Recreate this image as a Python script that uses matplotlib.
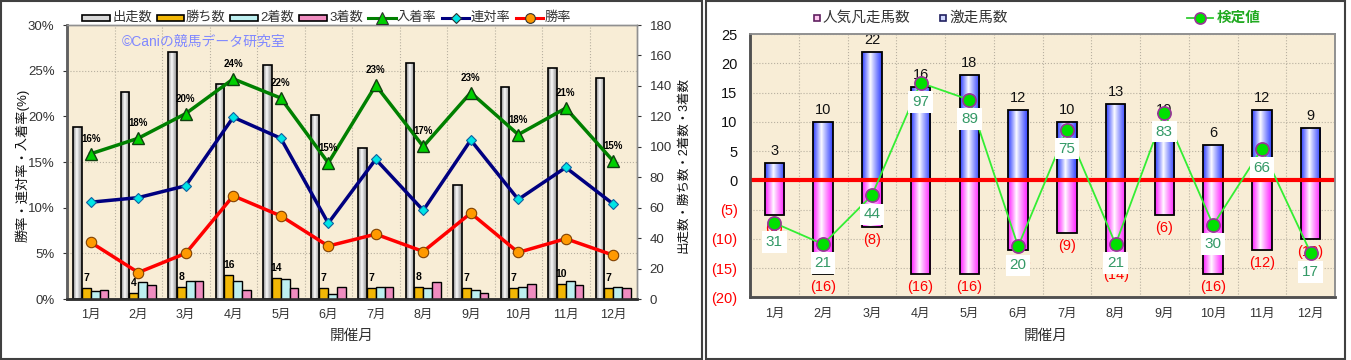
import numpy as np
import matplotlib
matplotlib.use('Agg')
import matplotlib.pyplot as plt
from matplotlib.lines import Line2D
from matplotlib.patches import Rectangle
from matplotlib.colors import to_rgba

plt.rcParams['font.family'] = ['Liberation Sans', 'Noto Sans CJK JP']

# ---------------- data ----------------
months = ['1月', '2月', '3月', '4月', '5月', '6月', '7月', '8月', '9月', '10月', '11月', '12月']

# left chart (counts)
runs = [113, 136, 162, 141, 154, 121, 99, 155, 75, 139, 152, 145]
wins = [7, 4, 8, 16, 14, 7, 7, 8, 7, 7, 10, 7]
seconds = [5, 11, 12, 12, 13, 3, 8, 7, 6, 8, 12, 8]
thirds = [6, 9, 12, 6, 7, 8, 8, 11, 4, 10, 9, 7]
# left chart (rates, %)
place_rate = [15.9, 17.6, 20.3, 24.1, 22.0, 14.9, 23.4, 16.7, 22.6, 18.0, 20.9, 15.1]
quinella_rate = [10.6, 11.1, 12.4, 19.9, 17.6, 8.3, 15.3, 9.7, 17.4, 10.9, 14.4, 10.4]
win_rate = [6.2, 2.9, 5.0, 11.3, 9.1, 5.8, 7.1, 5.2, 9.4, 5.1, 6.6, 4.8]

# right chart
upset = [3, 10, 22, 16, 18, 12, 10, 13, 10, 6, 12, 9]        # 激走馬数
flop = [6, 16, 8, 16, 16, 12, 9, 14, 6, 16, 12, 10]          # 人気凡走馬数 (drawn downward)
score = [31, 21, 44, 97, 89, 20, 75, 21, 83, 30, 66, 17]     # 検定値

W, H = 1351, 360
fig = plt.figure(figsize=(W / 100, H / 100), dpi=100)
fig.patch.set_facecolor('white')

def P(x, y):
    return (x / W, 1 - y / H)

def rect(x0, y0, x1, y1):
    return [x0 / W, 1 - y1 / H, (x1 - x0) / W, (y1 - y0) / H]

BG = '#F8EDD6'
GRID = '#B8B0A0'
TXT = '#333333'

def gradient_fill(ax, bars, edge_color, mid=0.42):
    n = 64
    t = np.linspace(0, 1, n)
    w = np.where(t < mid, (mid - t) / mid, (t - mid) / (1 - mid))
    w = np.clip(w, 0, 1) ** 0.9
    ec = np.array(to_rgba(edge_color))[:3]
    img = (1 - w)[:, None] * np.ones(3) + w[:, None] * ec
    img = img[None, :, :]
    for r in bars:
        x, y = r.get_x(), r.get_y()
        bw, bh = r.get_width(), r.get_height()
        im = ax.imshow(img, extent=[x, x + bw, y, y + bh], aspect='auto',
                       zorder=r.get_zorder() - 0.05, interpolation='bilinear')
        im.set_clip_path(r)

# ---------------- panel borders ----------------
fig.add_artist(Rectangle(P(1, 358.5), 701 / W, 357.5 / H, transform=fig.transFigure,
                         fill=False, ec='#404040', lw=1.5))
fig.add_artist(Rectangle(P(705.5, 358.5), 639.5 / W, 357.5 / H, transform=fig.transFigure,
                         fill=False, ec='#404040', lw=1.5))

# ================= LEFT CHART =================
x = np.arange(len(months))
axb = fig.add_axes(rect(67, 25, 637, 299))
axb.set_facecolor(BG)
axl = axb.twinx()

bw = 0.185
offs = np.array([-1.5, -0.5, 0.5, 1.5]) * bw
b_runs = axb.bar(x + offs[0], runs, bw, facecolor='none', edgecolor='black', lw=1.2, zorder=3)
gradient_fill(axb, b_runs, '#8A8A8A')
axb.bar(x + offs[1], wins, bw, color='#F2B705', edgecolor='black', lw=1.0, zorder=3)
axb.bar(x + offs[2], seconds, bw, color='#BDEFF0', edgecolor='black', lw=1.0, zorder=3)
axb.bar(x + offs[3], thirds, bw, color='#F08CC0', edgecolor='black', lw=1.0, zorder=3)
for i, v in enumerate(wins):
    axb.annotate(str(v), (x[i] + offs[1], v), xytext=(0, 5), textcoords='offset pixels',
                 ha='center', va='bottom', fontsize=7.5, fontweight='bold', zorder=5)

axb.set_xlim(-0.5, len(months) - 0.5)
axb.set_ylim(0, 180)
axb.set_yticks(range(0, 181, 20))
axb.yaxis.tick_right()
axb.tick_params(axis='y', labelsize=9.5, colors=TXT, length=3, pad=6)
axb.set_yticks(range(0, 181, 30), minor=True)
axb.set_xticks(x)
axb.set_xticklabels(months)
axb.set_xticks(np.arange(0.5, len(months) - 1, 1), minor=True)
axb.tick_params(axis='x', which='both', length=0, labelsize=9, colors=TXT, pad=7)
axb.tick_params(axis='y', which='minor', length=0)
axb.grid(which='minor', axis='both', color=GRID, ls=':', lw=0.8)
axb.set_axisbelow(True)

axl.plot(x, place_rate, color='#008000', lw=2.5, marker='^', ms=9, mfc='#00D000', mec='#104010',
         mew=1.0, zorder=6)
axl.plot(x, quinella_rate, color='#000080', lw=2.5, marker='D', ms=5.5, mfc='#00E5E5', mec='#1060A0',
         mew=0.8, zorder=6)
axl.plot(x, win_rate, color='#FF0000', lw=2.5, marker='o', ms=7.5, mfc='#FF9900', mec='#804000',
         mew=0.8, zorder=6)
for i, v in enumerate(place_rate):
    axl.annotate(f'{v:.0f}%', (x[i], v), xytext=(0, 10), textcoords='offset pixels',
                 ha='center', va='bottom', fontsize=7, fontweight='bold', zorder=7)
axl.set_ylim(0, 30)
axl.set_yticks(range(0, 31, 5))
axl.set_yticklabels([f'{v}%' for v in range(0, 31, 5)])
axl.yaxis.tick_left()
axl.tick_params(axis='y', labelsize=9.5, colors=TXT, length=3, pad=6)

for a in (axb, axl):
    a.spines['left'].set_color('#606060')
    a.spines['left'].set_linewidth(1.8)
    a.spines['bottom'].set_color('#303030')
    a.spines['bottom'].set_linewidth(1.8)
    a.spines['top'].set_color('#909090')
    a.spines['top'].set_linewidth(1.0)
    a.spines['right'].set_color('#909090')
    a.spines['right'].set_linewidth(1.0)

fig.text(*P(204, 42), '©Caniの競馬データ研究室', color='#8088FF', fontsize=10,
         ha='center', va='center')
fig.text(*P(22, 165), '勝率・連対率・入着率(%)', rotation=90, fontsize=9.5,
         ha='center', va='center', color='#111111')
fig.text(*P(683, 165), '出走数・勝ち数・2着数・3着数', rotation=90, fontsize=9,
         ha='center', va='center', color='#111111')
fig.text(*P(352, 336), '開催月', fontsize=10.5, ha='center', va='center', color=TXT)

# left legend (manual)
leg_y = 18
for (x0, x1, tx, fc, label) in [
        (82, 110, 112, '#D8D8D8', '出走数'),
        (157, 184, 186, '#F2B705', '勝ち数'),
        (230, 258, 260, '#BDEFF0', '2着数'),
        (299, 327, 329, '#F08CC0', '3着数')]:
    fig.add_artist(Rectangle(P(x0, leg_y + 3), (x1 - x0) / W, 6 / H, transform=fig.transFigure,
                             fc=fc, ec='black', lw=1.2))
    fig.text(*P(tx, leg_y), label, fontsize=9.5, ha='left', va='center', color=TXT)
for (x0, x1, tx, lc, mk, ms, mfc, label) in [
        (368, 396, 397, '#008000', '^', 8, '#00D000', '入着率'),
        (442, 469, 471, '#000080', 'D', 5, '#00E5E5', '連対率'),
        (516, 543, 545, '#FF0000', 'o', 7, '#FF9900', '勝率')]:
    fig.add_artist(Line2D([x0 / W, x1 / W], [1 - leg_y / H] * 2, transform=fig.transFigure,
                          color=lc, lw=2.2))
    fig.add_artist(Line2D([(x0 + x1) / 2 / W], [1 - leg_y / H], transform=fig.transFigure,
                          marker=mk, ms=ms, mfc=mfc, mec='#303030', mew=0.8, ls='none'))
    fig.text(*P(tx, leg_y), label, fontsize=9.5, ha='left', va='center', color=TXT)

# ================= RIGHT CHART =================
axr = fig.add_axes(rect(750, 34, 1335, 297.3))
axr.set_facecolor(BG)
axs = axr.twinx()

rbw = 0.4
b_up = axr.bar(x, upset, rbw, facecolor='none', edgecolor='black', lw=1.3, zorder=3)
gradient_fill(axr, b_up, '#3040FF')
b_fl = axr.bar(x, [-v for v in flop], rbw, facecolor='none', edgecolor='black', lw=1.3, zorder=3)
gradient_fill(axr, b_fl, '#FF20FF')
for i, v in enumerate(upset):
    axr.annotate(str(v), (x[i], v), xytext=(0, 5), textcoords='offset pixels',
                 ha='center', va='bottom', fontsize=10.5, color='#111111', zorder=5)
for i, v in enumerate(flop):
    axr.annotate(f'({v})', (x[i], -v), xytext=(0, -6), textcoords='offset pixels',
                 ha='center', va='top', fontsize=10.5, color='#FF0000', zorder=5)
axr.axhline(0, color='#FF0000', lw=3, zorder=4)

axr.set_xlim(-0.5, len(months) - 0.5)
axr.set_ylim(-20, 25)
yt = list(range(-20, 26, 5))
axr.set_yticks(yt)
axr.set_yticklabels([str(v) if v >= 0 else f'({-v})' for v in yt])
for lab, v in zip(axr.get_yticklabels(), yt):
    lab.set_color('#FF0000' if v < 0 else '#111111')
axr.tick_params(axis='y', labelsize=10.5, length=0, pad=9)
axr.set_xticks(x)
axr.set_xticklabels(months)
axr.set_xticks(np.arange(0.5, len(months) - 1, 1), minor=True)
axr.tick_params(axis='x', which='both', length=0, labelsize=9, colors=TXT, pad=8)
axr.grid(which='major', axis='y', color=GRID, ls=':', lw=0.8)
axr.grid(which='minor', axis='x', color=GRID, ls=':', lw=0.8)
axr.set_axisbelow(True)

axs.plot(x, score, color='#33EE33', lw=1.3, marker='o', ms=9.5, mfc='#00E000', mec='#993399',
         mew=1.2, zorder=6)
for i, v in enumerate(score):
    axs.annotate(str(v), (x[i], v), xytext=(0, -19), textcoords='offset pixels',
                 ha='center', va='center', fontsize=11, color='#339966', zorder=7,
                 bbox=dict(boxstyle='square,pad=0.25', fc='white', ec='none'))
axs.set_ylim(-4, 120)
axs.set_yticks([])

for a in (axr, axs):
    a.spines['left'].set_color('#505050')
    a.spines['left'].set_linewidth(1.8)
    a.spines['bottom'].set_color('#505050')
    a.spines['bottom'].set_linewidth(1.8)
    a.spines['top'].set_color('#909090')
    a.spines['top'].set_linewidth(1.2)
    a.spines['right'].set_color('#909090')
    a.spines['right'].set_linewidth(1.2)

fig.text(*P(1046, 336), '開催月', fontsize=10.5, ha='center', va='center', color=TXT)

# right legend (manual)
ly = 18
fig.add_artist(Line2D([817 / W], [1 - ly / H], transform=fig.transFigure, marker='s', ms=5,
                      mfc='#FFC8F0', mec='#602060', mew=1.2, ls='none'))
fig.text(*P(823, ly), '人気凡走馬数', fontsize=10.5, ha='left', va='center', color=TXT)
fig.add_artist(Line2D([943 / W], [1 - ly / H], transform=fig.transFigure, marker='s', ms=5,
                      mfc='#D0D8FF', mec='#202060', mew=1.2, ls='none'))
fig.text(*P(949, ly), '激走馬数', fontsize=10.5, ha='left', va='center', color=TXT)
fig.add_artist(Line2D([1187 / W, 1213 / W], [1 - ly / H] * 2, transform=fig.transFigure,
                      color='#33CC33', lw=1.3))
fig.add_artist(Line2D([1200 / W], [1 - ly / H], transform=fig.transFigure, marker='o', ms=8,
                      mfc='#00E000', mec='#993399', mew=1.2, ls='none'))
fig.text(*P(1217, ly), '検定値', fontsize=10.5, ha='left', va='center', color='#22AA22',
         fontweight='bold')

fig.savefig('out.png', dpi=100, facecolor='white')
